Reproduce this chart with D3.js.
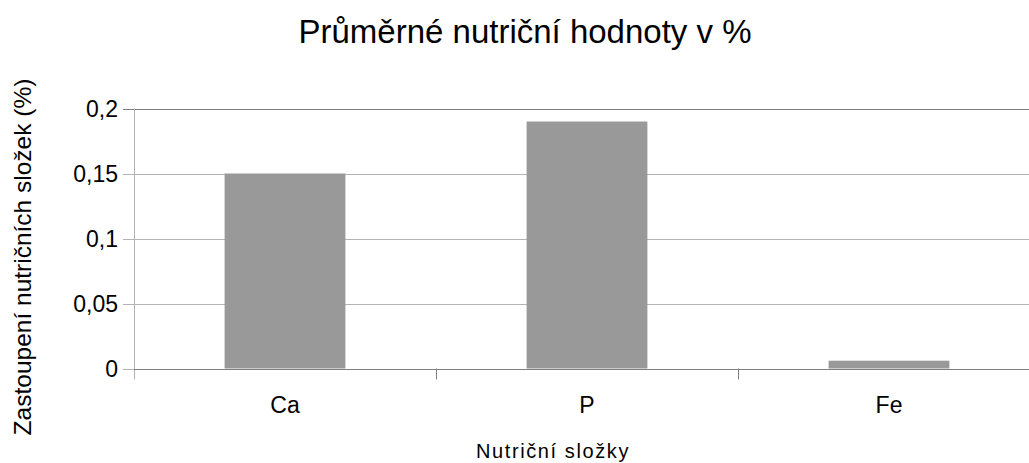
<!DOCTYPE html>
<html>
<head>
<meta charset="utf-8">
<script src="https://cdn.jsdelivr.net/npm/d3@7"></script>
<style>
  html, body { margin: 0; padding: 0; background: #fff; }
  svg { display: block; font-family: "Liberation Sans", Arial, sans-serif; }
</style>
</head>
<body>
<svg id="chart" width="1029" height="463"></svg>
<script>
// Nutrient composition data
const categories = ["Ca", "P", "Fe"];
const values = [0.15, 0.19, 0.006];
const yTicks = [0, 0.05, 0.1, 0.15, 0.2];
const yTickLabels = ["0", "0,05", "0,1", "0,15", "0,2"];

const svg = d3.select("#chart");
const plot = { left: 134, right: 1040, top: 108.5, bottom: 368.5 };

const x = d3.scaleBand()
  .domain(categories)
  .range([plot.left, plot.right])
  .paddingInner(0.6)
  .paddingOuter(0.3);

const xOuter = d3.scaleBand()
  .domain(categories)
  .range([plot.left, plot.right]);

const y = d3.scaleLinear()
  .domain([0, 0.2])
  .range([plot.bottom, plot.top]);

// Horizontal gridlines with left ticks
svg.append("g")
  .selectAll("line")
  .data(yTicks)
  .join("line")
  .attr("x1", plot.left - 11)
  .attr("x2", plot.right)
  .attr("y1", d => Math.round(y(d)) + 0.5)
  .attr("y2", d => Math.round(y(d)) + 0.5)
  .attr("stroke", d => (d === 0.2 ? "#7f7f7f" : "#b3b3b3"))
  .attr("stroke-width", 1);

// Bars
svg.append("g")
  .selectAll("rect")
  .data(categories)
  .join("rect")
  .attr("x", d => x(d))
  .attr("width", x.bandwidth())
  .attr("y", (d, i) => y(values[i]))
  .attr("height", (d, i) => y(0) - y(values[i]))
  .attr("fill", "#999999");

// Left axis line
svg.append("line")
  .attr("x1", plot.left + 0.5).attr("x2", plot.left + 0.5)
  .attr("y1", plot.top).attr("y2", plot.bottom + 11)
  .attr("stroke", "#b3b3b3");

// Baseline
svg.append("line")
  .attr("x1", plot.left).attr("x2", plot.right)
  .attr("y1", Math.round(y(0)) + 0.5).attr("y2", Math.round(y(0)) + 0.5)
  .attr("stroke", "#7f7f7f");

// Category boundary ticks
svg.append("g")
  .selectAll("line")
  .data(categories.slice(1))
  .join("line")
  .attr("x1", d => Math.round(xOuter(d)) + 0.5)
  .attr("x2", d => Math.round(xOuter(d)) + 0.5)
  .attr("y1", plot.bottom)
  .attr("y2", plot.bottom + 11)
  .attr("stroke", "#7f7f7f");

// Y tick labels
svg.append("g")
  .selectAll("text")
  .data(yTicks)
  .join("text")
  .attr("x", 118)
  .attr("y", d => y(d) + 8)
  .attr("text-anchor", "end")
  .attr("font-size", 23)
  .attr("fill", "#000")
  .text((d, i) => yTickLabels[i]);

// Category labels
svg.append("g")
  .selectAll("text")
  .data(categories)
  .join("text")
  .attr("x", d => x(d) + x.bandwidth() / 2)
  .attr("y", 413)
  .attr("text-anchor", "middle")
  .attr("font-size", 23)
  .attr("fill", "#000")
  .text(d => d);

// Title
svg.append("text")
  .attr("x", 525)
  .attr("y", 43)
  .attr("text-anchor", "middle")
  .attr("font-size", 33)
  .attr("fill", "#000")
  .text("Průměrné nutriční hodnoty v %");

// X axis title
svg.append("text")
  .attr("x", 553)
  .attr("y", 458)
  .attr("text-anchor", "middle")
  .attr("font-size", 20)
  .attr("letter-spacing", 1.6)
  .attr("fill", "#000")
  .text("Nutriční složky");

// Y axis title
svg.append("text")
  .attr("transform", "translate(31,257) rotate(-90)")
  .attr("text-anchor", "middle")
  .attr("font-size", 24.5)
  .attr("fill", "#000")
  .text("Zastoupení nutričních složek (%)");
</script>
</body>
</html>
